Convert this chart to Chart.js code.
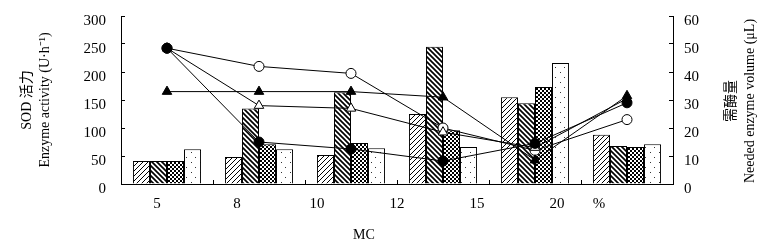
<!DOCTYPE html>
<html>
<head>
<meta charset="utf-8">
<script src="https://cdn.jsdelivr.net/npm/chart.js@4.4.1/dist/chart.umd.min.js"></script>
<style>
    html, body { margin: 0; padding: 0; background: #fff; }
    #wrap { width: 784px; height: 252px; }
</style>
</head>
<body>
<div id="wrap"><canvas id="chart" width="784" height="252"></canvas></div>
<script>
    // 含水率 MC (%)
    const mcLabels = ["5", "8", "10", "12", "15", "20"];
    const xTickLabels = ["5", "8", "10", "12", "15", "20", "%"];
    const leftTicks = [0, 50, 100, 150, 200, 250, 300];
    const rightTicks = [0, 10, 20, 30, 40, 50, 60];

    // SOD 活力 (bars, left axis)
    const sodSlash = [41, 48, 52, 125, 155, 88];
    const sodBackslash = [41, 135, 164, 245, 144, 68];
    const sodChecker = [41, 71, 73, 96, 173, 66];
    const sodDots = [62, 62, 64, 66, 216, 71];

    // 需酶量 (lines, right axis)
    const volOpenCircle = [48.5, 42, 39.5, 20, 12, 23];
    const volOpenTriangle = [48.5, 28, 27, 18.5, 13, 30.5];
    const volFilledTriangle = [33, 33, 33, 31, 8.5, 31.5];
    const volFilledCircle = [48.5, 15, 12.5, 8.2, 14.5, 29];

    const FONT = "'Liberation Serif', 'Noto Sans CJK SC', serif";
    Chart.defaults.font.family = FONT;
    Chart.defaults.color = "#000";

    // 막대 무늬
    function makePattern(type) {
        const c = document.createElement("canvas");
        const g = c.getContext("2d");
        if (type === "slash" || type === "backslash") {
            const s = 5;
            c.width = s; c.height = s;
            g.fillStyle = "#fff";
            g.fillRect(0, 0, s, s);
            g.strokeStyle = "#000";
            g.lineWidth = type === "slash" ? 1 : 1.7;
            g.beginPath();
            if (type === "slash") {
                g.moveTo(0, s); g.lineTo(s, 0);
                g.moveTo(-s / 4, s / 4); g.lineTo(s / 4, -s / 4);
                g.moveTo(3 * s / 4, 5 * s / 4); g.lineTo(5 * s / 4, 3 * s / 4);
            } else {
                g.moveTo(0, 0); g.lineTo(s, s);
                g.moveTo(-s / 4, 3 * s / 4); g.lineTo(s / 4, 5 * s / 4);
                g.moveTo(3 * s / 4, -s / 4); g.lineTo(5 * s / 4, s / 4);
            }
            g.stroke();
        } else if (type === "checker") {
            c.width = 4; c.height = 4;
            g.fillStyle = "#fff";
            g.fillRect(0, 0, 4, 4);
            g.fillStyle = "#000";
            g.fillRect(0, 0, 2, 2);
            g.fillRect(2, 2, 2, 2);
        } else {
            c.width = 9; c.height = 10;
            g.fillStyle = "#fff";
            g.fillRect(0, 0, 9, 10);
            g.fillStyle = "#333";
            g.fillRect(2, 2, 1, 1);
            g.fillRect(6, 7, 1, 1);
        }
        return g.createPattern(c, "repeat");
    }

    // 오른쪽 축 제목과 MC
    const extraTitles = {
        id: "extraTitles",
        afterDraw(chart) {
            const { ctx, chartArea } = chart;
            const cy = (chartArea.top + chartArea.bottom) / 2 + 1;
            ctx.save();
            ctx.fillStyle = "#000";
            ctx.textAlign = "center";
            ctx.textBaseline = "middle";
            ctx.font = "14px " + FONT;
            ctx.fillText("MC", chartArea.left + 243, 235);
            [["需酶量", 58], ["Needed enzyme volume (μL)", 77]].forEach(function (a) {
                ctx.save();
                ctx.translate(chartArea.right + a[1], cy);
                ctx.rotate(-Math.PI / 2);
                ctx.fillText(a[0], 0, 0);
                ctx.restore();
            });
            ctx.restore();
        }
    };

    function barSet(label, data, type) {
        return {
            label: label,
            data: data,
            backgroundColor: makePattern(type),
            borderColor: "#000",
            borderWidth: 1,
            categoryPercentage: 0.74,
            barPercentage: 1.0,
            xAxisID: "x",
            yAxisID: "y",
            order: 10
        };
    }

    function lineSet(label, data, style, filled, order) {
        return {
            type: "line",
            label: label,
            data: data,
            borderColor: "#000",
            borderWidth: 1,
            tension: 0,
            fill: false,
            pointStyle: style,
            pointRadius: style === "triangle" ? 5.5 : 5,
            pointBackgroundColor: filled ? "#000" : "#fff",
            pointBorderColor: "#000",
            pointBorderWidth: 1,
            xAxisID: "x",
            yAxisID: "y1",
            order: order
        };
    }

    function noPad(s) {
        s.paddingTop = 0;
        s.paddingBottom = 0;
    }

    const ctx = document.getElementById("chart").getContext("2d");
    new Chart(ctx, {
        type: "bar",
        data: {
            labels: mcLabels,
            datasets: [
                barSet("a", sodSlash, "slash"),
                barSet("b", sodBackslash, "backslash"),
                barSet("c", sodChecker, "checker"),
                barSet("d", sodDots, "dots"),
                lineSet("open circle", volOpenCircle, "circle", false, 3),
                lineSet("open triangle", volOpenTriangle, "triangle", false, 2),
                lineSet("filled triangle", volFilledTriangle, "triangle", true, 1),
                lineSet("filled circle", volFilledCircle, "circle", true, 0)
            ]
        },
        options: {
            responsive: false,
            animation: false,
            layout: { padding: { top: 16, left: 0, right: 0, bottom: 0 } },
            plugins: {
                legend: { display: false },
                tooltip: { enabled: false }
            },
            scales: {
                x: {
                    type: "category",
                    position: "bottom",
                    offset: true,
                    weight: 0,
                    grid: { offset: true, drawOnChartArea: false, tickLength: -4, color: "#000" },
                    border: { color: "#000", width: 1 },
                    ticks: { display: false },
                    afterFit: function (s) { s.height = 0; s.paddingLeft = 0; s.paddingRight = 0; }
                },
                xl: {
                    type: "linear",
                    position: "bottom",
                    weight: 1,
                    offset: false,
                    bounds: "data",
                    min: -0.45,
                    max: 6.45,
                    grid: { display: false, drawTicks: false },
                    border: { display: false },
                    afterBuildTicks: function (s) {
                        s.ticks = [0, 1, 2, 3, 4, 5, 5.525].map(v => ({ value: v }));
                    },
                    ticks: {
                        autoSkip: false,
                        maxRotation: 0,
                        padding: 11,
                        font: { size: 15 },
                        color: "#000",
                        callback: (v, i) => xTickLabels[i]
                    },
                    afterFit: function (s) { s.height = 68; s.paddingLeft = 0; s.paddingRight = 0; }
                },
                y: {
                    position: "left",
                    min: 0,
                    max: 300,
                    afterBuildTicks: function (s) {
                        s.ticks = leftTicks.map(v => ({ value: v }));
                    },
                    grid: { drawOnChartArea: false, tickLength: -4, color: "#000" },
                    border: { color: "#000", width: 1 },
                    ticks: { padding: 19, labelOffset: 5, font: { size: 15 }, color: "#000" },
                    title: {
                        display: true,
                        text: ["SOD 活力", "Enzyme activity (U·h⁻¹)"],
                        font: { size: 14, lineHeight: 1.3 },
                        color: "#000",
                        padding: { top: 18, bottom: 0 }
                    },
                    afterFit: function (s) { s.width = 121; noPad(s); }
                },
                y1: {
                    position: "right",
                    min: 0,
                    max: 60,
                    afterBuildTicks: function (s) {
                        s.ticks = rightTicks.map(v => ({ value: v }));
                    },
                    grid: { drawOnChartArea: false, tickLength: -4, color: "#000" },
                    border: { color: "#000", width: 1 },
                    ticks: { padding: 15, labelOffset: 5, font: { size: 15 }, color: "#000" },
                    afterFit: function (s) { s.width = 111; noPad(s); }
                }
            }
        },
        plugins: [extraTitles]
    });
</script>
</body>
</html>
